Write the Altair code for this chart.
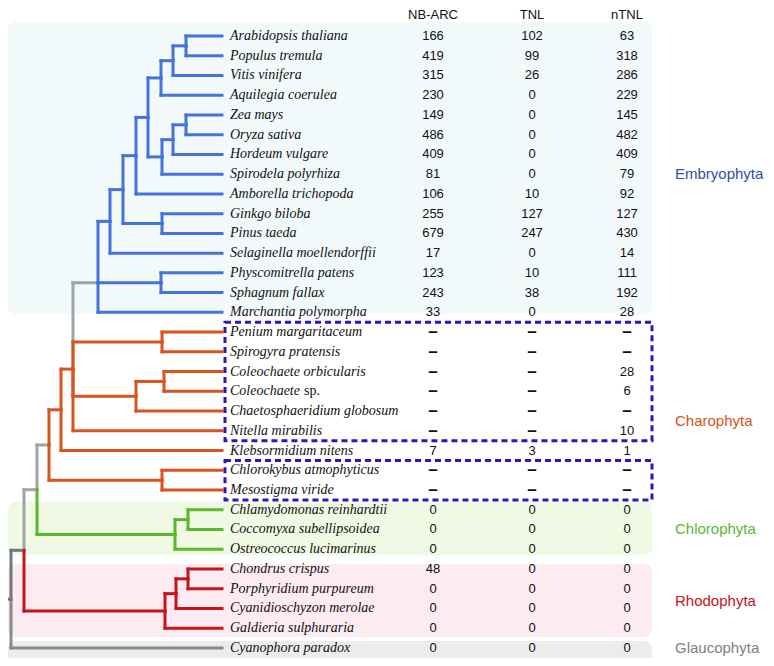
import altair as alt
import pandas as pd

# ---------------- data ----------------
SPECIES = [
    "Arabidopsis thaliana", "Populus tremula", "Vitis vinifera", "Aquilegia coerulea",
    "Zea mays", "Oryza sativa", "Hordeum vulgare", "Spirodela polyrhiza",
    "Amborella trichopoda", "Ginkgo biloba", "Pinus taeda", "Selaginella moellendorffii",
    "Physcomitrella patens", "Sphagnum fallax", "Marchantia polymorpha",
    "Penium margaritaceum", "Spirogyra pratensis", "Coleochaete orbicularis", "Coleochaete sp.",
    "Chaetosphaeridium globosum", "Nitella mirabilis", "Klebsormidium nitens",
    "Chlorokybus atmophyticus", "Mesostigma viride",
    "Chlamydomonas reinhardtii", "Coccomyxa subellipsoidea", "Ostreococcus lucimarinus",
    "Chondrus crispus", "Porphyridium purpureum", "Cyanidioschyzon merolae", "Galdieria sulphuraria",
    "Cyanophora paradox",
]
NB_ARC = [166, 419, 315, 230, 149, 486, 409, 81, 106, 255, 679, 17, 123, 243, 33,
          None, None, None, None, None, None, 7, None, None,
          0, 0, 0, 48, 0, 0, 0, 0]
TNL = [102, 99, 26, 0, 0, 0, 0, 0, 10, 127, 247, 0, 10, 38, 0,
       None, None, None, None, None, None, 3, None, None,
       0, 0, 0, 0, 0, 0, 0, 0]
NTNL = [63, 318, 286, 229, 145, 482, 409, 79, 92, 127, 430, 14, 111, 192, 28,
        None, None, 28, 6, None, 10, 1, None, None,
        0, 0, 0, 0, 0, 0, 0, 0]
GROUP = ["embryo"] * 15 + ["charo"] * 9 + ["chloro"] * 3 + ["rhodo"] * 4 + ["glauco"]
COLUMNS = ["NB-ARC", "TNL", "nTNL"]

# tree: (branch depth, clade of the incoming branch, children); ints are leaf rows
TREE = (11, "root", [
    (24, "root", [
        (37, "stem", [
            (49, "stem", [
                (61, "charo", [
                    (73, "charo", [
                        (98, "stem", [
                            (110, "embryo", [
                                (123, "embryo", [
                                    (136, "embryo", [
                                        (148, "embryo", [
                                            (161, "embryo", [(173, "embryo", [(186, "embryo", [0, 1]), 2]), 3]),
                                            (162, "embryo", [(173, "embryo", [(186, "embryo", [4, 5]), 6]), 7]),
                                        ]),
                                        8]),
                                    (162, "embryo", [9, 10])]),
                                11]),
                            (161, "embryo", [12, 13]),
                            14]),
                        (162, "charo", [15, 16]),
                        (136, "charo", [(164, "charo", [17, 18]), 19]),
                        20]),
                    21]),
                (162, "charo", [22, 23])]),
            (175, "chloro", [(188, "chloro", [24, 25]), 26])]),
        (165, "rhodo", [(176, "rhodo", [(188, "rhodo", [27, 28]), 29]), 30])]),
    31])

GROUP_LABELS = ["Embryophyta", "Charophyta", "Chlorophyta", "Rhodophyta", "Glaucophyta"]
GROUP_LABEL_ROWS = [7, 19.5, 25, 28.6, 31]
BAND_ROWS = [(-0.72, 14.1), (23.6, 26.3), (26.75, 30.45), (30.65, 32.0)]
BOX_ROWS = [(15, 20), (22, 23)]

# ---------------- styling / layout constants ----------------
LEAF_TIP = 222
STUB_START = 0
NAME_X = 230
COL_X = [433, 532, 627]
LABEL_X = 675
TABLE_RIGHT = 652
BOX_LEFT = 225
BAND_LEFT = 8

TREE_COLORS = {"root": "#6f777b", "glauco": "#858c90", "stem": "#9ba7a7",
               "embryo": "#4673d9", "charo": "#d9531c", "chloro": "#5cb82a", "rhodo": "#c7131d"}
BAND_COLORS = ["#f2f9fb", "#f0f9e4", "#fcebf0", "#ececec"]
LABEL_COLORS = ["#2f4ea8", "#d45420", "#5db534", "#c4121c", "#808080"]
BOX_COLOR = "#2f17b8"

# ---------------- build tables ----------------
edges = []


def leaf_clade(i):
    return GROUP[i]


def layout(node):
    if isinstance(node, int):
        return LEAF_TIP, float(node), leaf_clade(node)
    depth, clade, kids = node
    pos = [layout(k) for k in kids]
    ys = sorted(p[1] for p in pos)
    n = len(ys)
    y = (ys[(n - 1) // 2] + ys[n // 2]) / 2
    for cx, cy, cc in pos:
        edges.append(dict(x=depth, x2=depth, y=y, y2=cy, clade=cc))
        edges.append(dict(x=depth, x2=cx, y=cy, y2=cy, clade=cc))
    return depth, y, clade


rx, ry, rc = layout(TREE)
edges.append(dict(x=STUB_START, x2=rx, y=ry, y2=ry, clade=rc))
edge_df = pd.DataFrame(edges)
prio = {"root": 0, "glauco": 0, "stem": 1}
edge_df["prio"] = edge_df["clade"].map(lambda c: prio.get(c, 2))
edge_df = edge_df.sort_values("prio", kind="stable").reset_index(drop=True)

names = []
for i, s in enumerate(SPECIES):
    if s.endswith(" sp."):
        names.append(dict(row=i, ital=s[:-4], plain="sp."))
    else:
        names.append(dict(row=i, ital=s, plain=""))
name_df = pd.DataFrame(names)
name_df["nx"] = NAME_X

cells = []
for j, vals in enumerate([NB_ARC, TNL, NTNL]):
    for i, v in enumerate(vals):
        cells.append(dict(row=i, cx=COL_X[j], txt=("\u2013" if v is None else str(v)),
                          dash=(v is None)))
cell_df = pd.DataFrame(cells)

# ---------------- chart geometry ----------------
W, H = 758, 650
ROW_PX = 19.74
TOP = -1.418                       # row value at the top edge
HEADER_ROW = TOP + 6.8 / ROW_PX    # header line just below the top edge

header_df = pd.DataFrame({"txt": COLUMNS, "cx": COL_X, "row": [HEADER_ROW] * 3})
label_df = pd.DataFrame({"txt": GROUP_LABELS, "row": GROUP_LABEL_ROWS,
                         "col": LABEL_COLORS, "lx": [LABEL_X] * 5})
band_df = pd.DataFrame({"y": [b[0] for b in BAND_ROWS], "y2": [b[1] for b in BAND_ROWS],
                        "col": BAND_COLORS, "x": [BAND_LEFT] * 4, "x2": [TABLE_RIGHT] * 4})
box_df = pd.DataFrame({"y": [b[0] - 0.5 for b in BOX_ROWS], "y2": [b[1] + 0.5 for b in BOX_ROWS],
                       "x": [BOX_LEFT] * 2, "x2": [TABLE_RIGHT] * 2})

xs = alt.Scale(domain=[8, 766], nice=False, zero=False)
ys = alt.Scale(domain=[TOP, TOP + H / ROW_PX], nice=False, zero=False, reverse=True)

bands = alt.Chart(band_df).mark_rect(cornerRadius=8).encode(
    x=alt.X("x:Q", scale=xs, axis=None), x2="x2:Q",
    y=alt.Y("y:Q", scale=ys, axis=None), y2="y2:Q",
    color=alt.Color("col:N", scale=None),
)

tree = alt.Chart(edge_df).mark_rule(strokeWidth=3, strokeCap="square").encode(
    x=alt.X("x:Q", scale=xs, axis=None), x2="x2:Q",
    y=alt.Y("y:Q", scale=ys, axis=None), y2="y2:Q",
    color=alt.Color("clade:N", scale=alt.Scale(domain=list(TREE_COLORS.keys()),
                                               range=list(TREE_COLORS.values())), legend=None),
    order=alt.Order("prio:Q"),
)

boxes = alt.Chart(box_df).mark_rect(fillOpacity=0, stroke=BOX_COLOR, strokeWidth=3,
                                    strokeDash=[6, 4]).encode(
    x=alt.X("x:Q", scale=xs, axis=None), x2="x2:Q",
    y=alt.Y("y:Q", scale=ys, axis=None), y2="y2:Q",
)

name_text = alt.Chart(name_df).mark_text(
    align="left", baseline="middle", font="Liberation Serif", fontStyle="italic",
    fontSize=14, color="#111111").encode(
    x=alt.X("nx:Q", scale=xs, axis=None),
    y=alt.Y("row:Q", scale=ys, axis=None),
    text="ital:N",
)

plain_text = alt.Chart(name_df).transform_filter("datum.plain != ''").mark_text(
    align="left", baseline="middle", font="Liberation Serif",
    fontSize=14, color="#111111", dx=74).encode(
    x=alt.X("nx:Q", scale=xs, axis=None),
    y=alt.Y("row:Q", scale=ys, axis=None),
    text="plain:N",
)

num_text = alt.Chart(cell_df).transform_filter("!datum.dash").mark_text(
    align="center", baseline="middle", font="Liberation Sans", fontSize=13,
    color="#111111").encode(
    x=alt.X("cx:Q", scale=xs, axis=None),
    y=alt.Y("row:Q", scale=ys, axis=None),
    text="txt:N",
)

dash_text = alt.Chart(cell_df).transform_filter("datum.dash").mark_text(
    align="center", baseline="middle", font="Liberation Sans", fontSize=17,
    fontWeight="bold", color="#111111").encode(
    x=alt.X("cx:Q", scale=xs, axis=None),
    y=alt.Y("row:Q", scale=ys, axis=None),
    text="txt:N",
)

header_text = alt.Chart(header_df).mark_text(
    align="center", baseline="middle", font="Liberation Sans", fontSize=13,
    color="#111111").encode(
    x=alt.X("cx:Q", scale=xs, axis=None),
    y=alt.Y("row:Q", scale=ys, axis=None),
    text="txt:N",
)

label_text = alt.Chart(label_df).mark_text(
    align="left", baseline="middle", font="Liberation Sans", fontSize=15).encode(
    x=alt.X("lx:Q", scale=xs, axis=None),
    y=alt.Y("row:Q", scale=ys, axis=None),
    text="txt:N",
    color=alt.Color("col:N", scale=None),
)

chart = alt.layer(
    bands, tree, boxes, name_text, plain_text, num_text, dash_text, header_text, label_text
).resolve_scale(color="independent").properties(
    width=W, height=H, padding=0,
    autosize=alt.AutoSizeParams(type="none"),
    background="white",
).configure_view(stroke=None)

chart.save("out.html", embed_options={"renderer": "svg", "actions": False})
